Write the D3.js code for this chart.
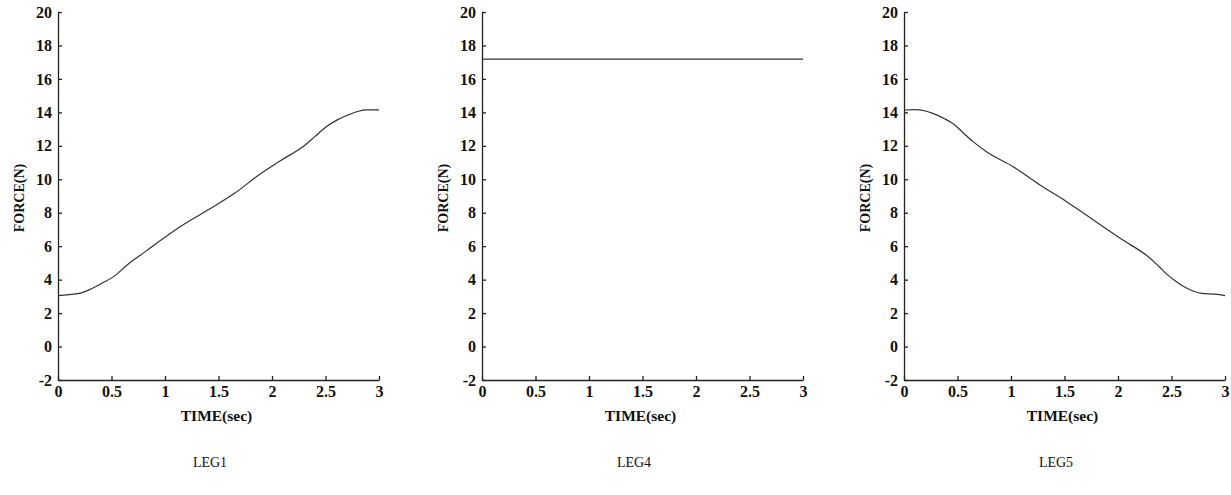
<!DOCTYPE html>
<html>
<head>
<meta charset="utf-8">
<script src="https://cdn.jsdelivr.net/npm/d3@7"></script>
<style>
  body { margin: 0; background: #fff; }
  svg { display: block; }
  .axis text { font-family: "Liberation Serif", "Times New Roman", serif; font-weight: bold; font-size: 16px; fill: #111; }
  .axis path, .axis line { stroke: #222; stroke-width: 1.3; }
  .lbl { font-family: "Liberation Serif", "Times New Roman", serif; font-weight: bold; font-size: 14px; fill: #111; }
  .ttl { font-family: "Liberation Serif", "Times New Roman", serif; font-size: 14px; fill: #111; }
</style>
</head>
<body>
<div id="chart"></div>
<script>
// data
const timeTicks = [0, 0.5, 1, 1.5, 2, 2.5, 3];
const forceTicks = [-2, 0, 2, 4, 6, 8, 10, 12, 14, 16, 18, 20];

const leg1 = [
  [0, 3.05], [0.1, 3.1], [0.2, 3.18], [0.3, 3.42], [0.41, 3.78], [0.52, 4.18],
  [0.66, 4.95], [0.8, 5.6], [0.91, 6.12], [1.12, 7.07], [1.4, 8.16], [1.65, 9.16],
  [1.9, 10.36], [2.09, 11.15], [2.31, 12.05], [2.4, 12.55], [2.51, 13.15],
  [2.61, 13.55], [2.71, 13.84], [2.8, 14.05], [2.88, 14.15], [3, 14.15]
];
const leg4 = [[0, 17.18], [3, 17.18]];
const leg5 = [
  [0, 14.14], [0.1, 14.16], [0.2, 14.08], [0.27, 13.94], [0.38, 13.62], [0.48, 13.22],
  [0.55, 12.8], [0.64, 12.28], [0.77, 11.65], [1.02, 10.75], [1.27, 9.66], [1.52, 8.66],
  [1.77, 7.57], [2.02, 6.47], [2.3, 5.28], [2.38, 4.8], [2.46, 4.3], [2.54, 3.9],
  [2.61, 3.6], [2.7, 3.32], [2.78, 3.18], [2.91, 3.13], [3, 3.04]
];

const panels = [
  { name: "LEG1", data: leg1, x0: 58 },
  { name: "LEG4", data: leg4, x0: 482 },
  { name: "LEG5", data: leg5, x0: 904 }
];

const width = 1231, height = 495;
const plotW = 321;
const plotTop = 12, plotBottom = 380;

const svg = d3.select("#chart").append("svg")
  .attr("width", width)
  .attr("height", height);

panels.forEach((p) => {
  const x = d3.scaleLinear().domain([0, 3]).range([p.x0, p.x0 + plotW]);
  const y = d3.scaleLinear().domain([-2, 20]).range([plotBottom, plotTop]);

  const g = svg.append("g");

  g.append("g")
    .attr("class", "axis")
    .attr("transform", `translate(0,${plotBottom})`)
    .call(d3.axisBottom(x).tickValues(timeTicks).tickFormat((d) => String(d))
      .tickSizeInner(-4).tickSizeOuter(0).tickPadding(6));

  g.append("g")
    .attr("class", "axis")
    .attr("transform", `translate(${p.x0},0)`)
    .call(d3.axisLeft(y).tickValues(forceTicks).tickFormat((d) => String(d))
      .tickSizeInner(-4).tickSizeOuter(0).tickPadding(6));

  const line = d3.line()
    .x((d) => x(d[0]))
    .y((d) => y(d[1]))
    .curve(d3.curveMonotoneX);

  g.append("path")
    .datum(p.data)
    .attr("fill", "none")
    .attr("stroke", "#333")
    .attr("stroke-width", 1.2)
    .attr("d", line);

  g.append("text")
    .attr("class", "lbl")
    .style("font-size", "15.5px")
    .attr("x", p.x0 + plotW / 2 - 2)
    .attr("y", 421)
    .attr("text-anchor", "middle")
    .text("TIME(sec)");

  g.append("text")
    .attr("class", "lbl")
    .attr("transform", `translate(${p.x0 - 34},${(plotTop + plotBottom) / 2 + 2}) rotate(-90)`)
    .attr("text-anchor", "middle")
    .text("FORCE(N)");

  g.append("text")
    .attr("class", "ttl")
    .attr("x", p.x0 + 152)
    .attr("y", 467)
    .attr("text-anchor", "middle")
    .text(p.name);
});
</script>
</body>
</html>
